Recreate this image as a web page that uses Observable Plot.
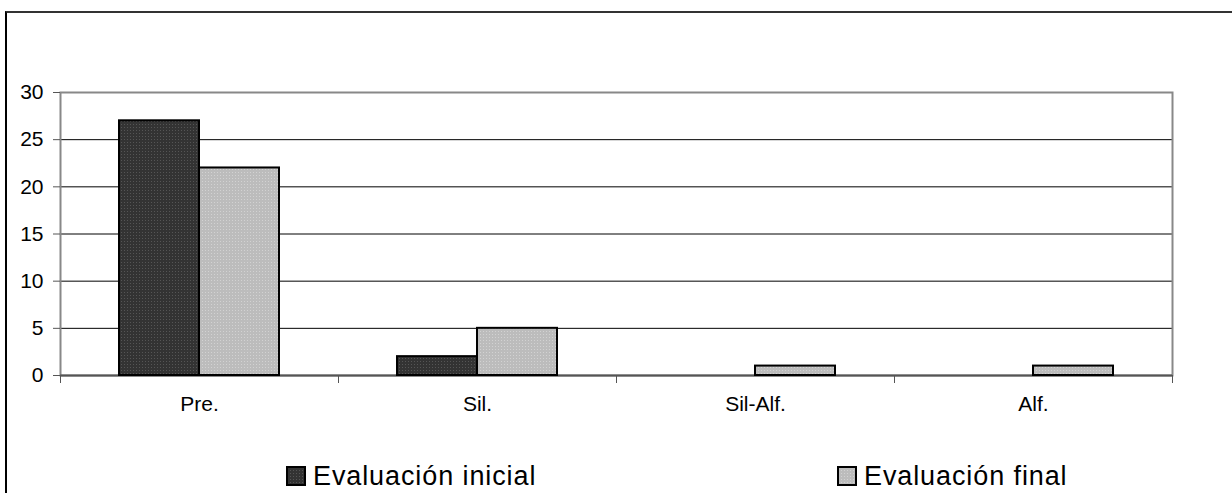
<!DOCTYPE html>
<html>
<head>
<meta charset="utf-8">
<script src="https://cdn.jsdelivr.net/npm/d3@7"></script>
<script src="https://cdn.jsdelivr.net/npm/@observablehq/plot@0.6"></script>
<style>
  html, body { margin: 0; padding: 0; background: #fff; }
  body { width: 1232px; height: 493px; position: relative; overflow: hidden; font-family: "Liberation Sans", Arial, sans-serif; }
  #border { position: absolute; left: 5px; top: 11px; width: 1300px; height: 600px; border-left: 2px solid #000; border-top: 2px solid #333; box-sizing: border-box; }
  #chart { position: absolute; left: 0; top: 0; }
  .leg { position: absolute; top: 459px; display: flex; align-items: center; font-size: 27px; letter-spacing: 0.9px; color: #000; line-height: 34px; }
  .leg svg { margin-right: 7px; }
</style>
</head>
<body>
<div id="border"></div>
<div id="chart"></div>
<div class="leg" id="leg0" style="left:286px"></div>
<div class="leg" id="leg1" style="left:837px"></div>
<script>
const categories = ["Pre.", "Sil.", "Sil-Alf.", "Alf."];
const series = ["Evaluación inicial", "Evaluación final"];
const inicial = [27, 2, 0, 0];
const final = [22, 5, 1, 1];
const yTicks = [0, 5, 10, 15, 20, 25, 30];
const gridTicks = [5, 10, 15, 20, 25];
const fills = ["url(#patDark)", "url(#patLight)"];

const data = [];
categories.forEach((c, i) => {
  data.push({category: c, series: series[0], value: inicial[i]});
  data.push({category: c, series: series[1], value: final[i]});
});

const W = 1232, H = 420, mT = 92, mB = 45, mL = 60, mR = 60;
const plotH = H - mT - mB;

const chart = Plot.plot({
  width: W,
  height: H,
  marginTop: mT,
  marginBottom: mB,
  marginLeft: mL,
  marginRight: mR,
  style: {fontFamily: "'Liberation Sans', Arial, sans-serif", color: "#000", background: "transparent", overflow: "visible"},
  fx: {domain: categories, paddingInner: 0, paddingOuter: 0, label: null},
  x: {domain: series, paddingInner: 0, paddingOuter: 0.7375, axis: null},
  y: {domain: [0, 30], axis: null},
  color: {domain: series, range: fills},
  marks: [
    Plot.gridY(gridTicks, {stroke: "#000", strokeOpacity: 1, strokeWidth: 1}),
    Plot.frame({facet: "super", stroke: "#888", strokeWidth: 2}),
    Plot.ruleY([0], {stroke: "#555", strokeWidth: 2}),
    Plot.frame({anchor: "left", stroke: "#555", strokeWidth: 1, insetTop: plotH, insetBottom: -7}),
    Plot.frame({anchor: "right", stroke: "#555", strokeWidth: 1, insetTop: plotH, insetBottom: -7}),
    Plot.barY(data, {fx: "category", x: "series", y: "value", fill: "series", stroke: "#000", strokeWidth: 2, inset: 0,
      filter: d => d.value > 0}),
    Plot.axisY(yTicks, {anchor: "left", tickSize: 7, tickPadding: 10, fontSize: 21, stroke: "#555", strokeWidth: 1, label: null}),
    Plot.axisFx({anchor: "bottom", tickSize: 0, tickPadding: 21, fontSize: 21, label: null})
  ]
});

document.getElementById("chart").appendChild(chart);

// texture patterns
const svgEl = chart.tagName.toLowerCase() === "svg" ? chart : chart.querySelector("svg");
const defs = document.createElementNS("http://www.w3.org/2000/svg", "defs");
defs.innerHTML = `
  <pattern id="patDark" patternUnits="userSpaceOnUse" width="3" height="3">
    <rect width="3" height="3" fill="#333"/>
    <rect x="1" y="1" width="1" height="1" fill="#555"/>
  </pattern>
  <pattern id="patLight" patternUnits="userSpaceOnUse" width="3" height="3">
    <rect width="3" height="3" fill="#bcbcbc"/>
    <rect x="1" y="1" width="1" height="1" fill="#d2d2d2"/>
  </pattern>`;
svgEl.insertBefore(defs, svgEl.firstChild);

// legend
series.forEach((s, i) => {
  const el = document.getElementById("leg" + i);
  el.innerHTML = `<svg width="20" height="20"><rect x="1" y="1" width="18" height="18" fill="${fills[i]}" stroke="#000" stroke-width="2"/></svg><span>${s}</span>`;
});
document.querySelectorAll(".leg svg").forEach(sv => {
  sv.insertBefore(defs.cloneNode(true), sv.firstChild);
});
</script>
</body>
</html>
